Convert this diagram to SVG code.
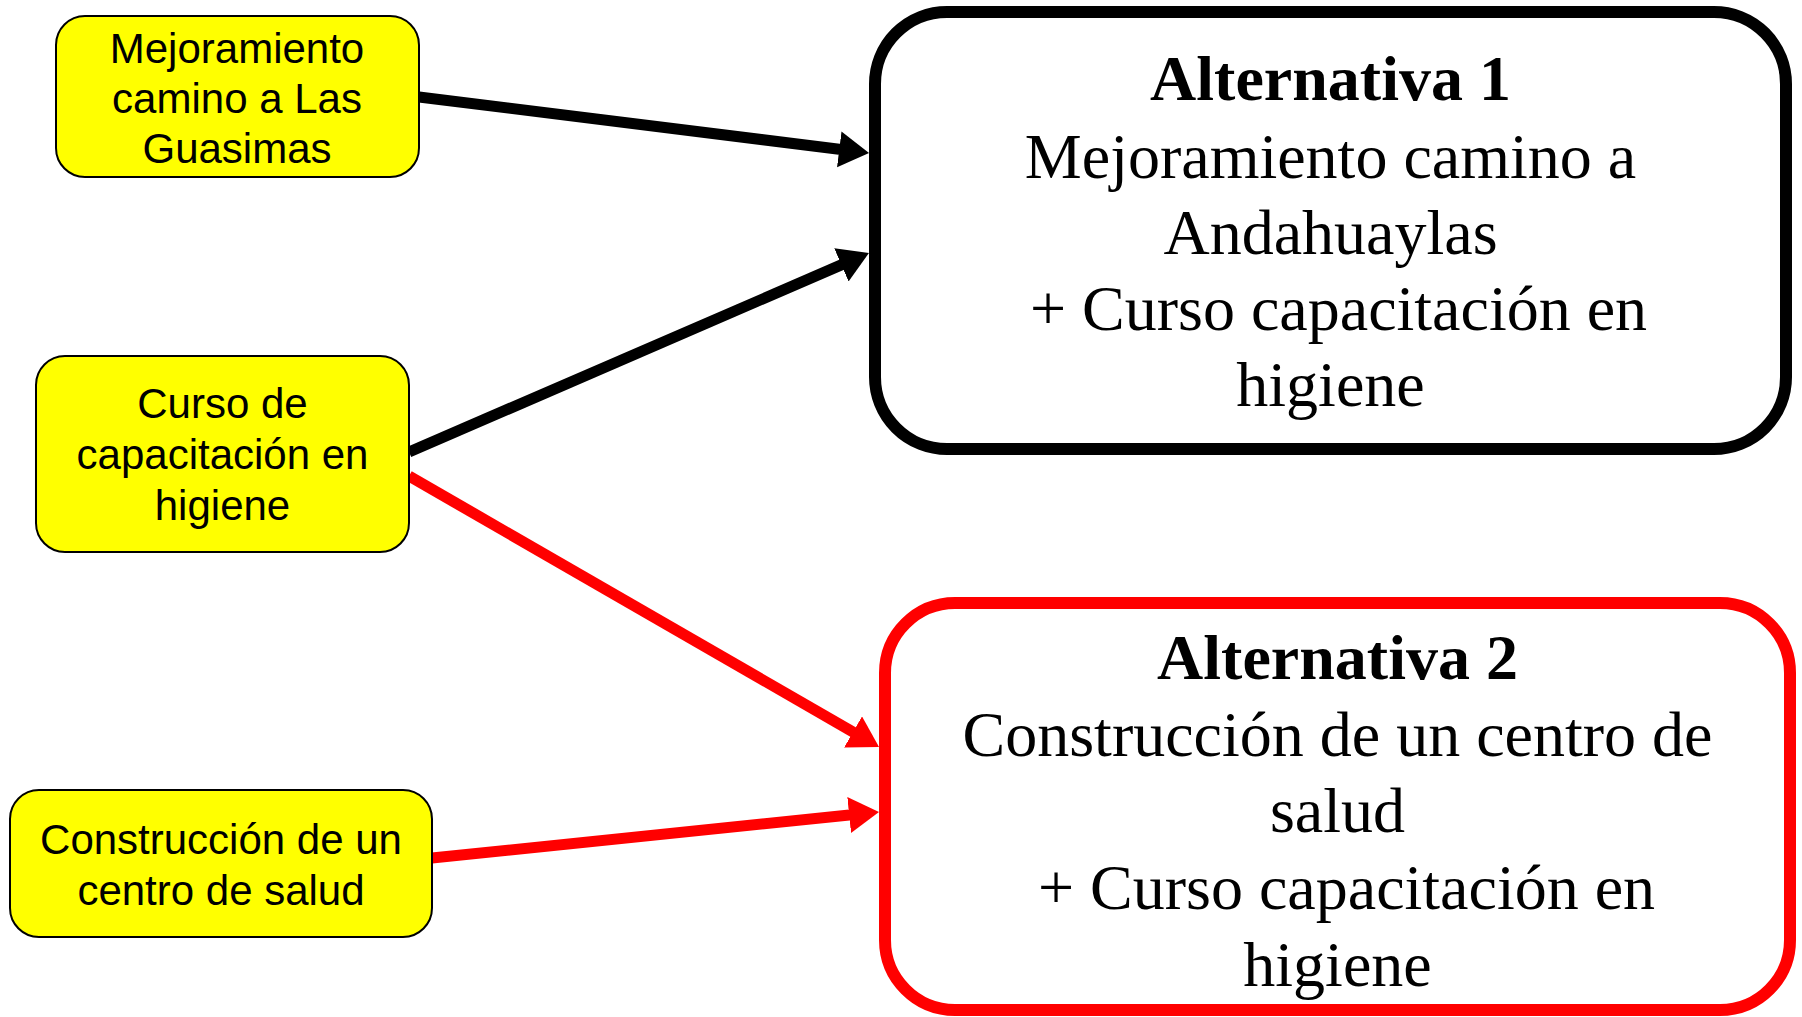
<svg xmlns="http://www.w3.org/2000/svg" width="1802" height="1017" viewBox="0 0 1802 1017">
<style>
.src{fill:#ffff00;stroke:#000;stroke-width:2}
.st{font-family:"Liberation Sans",Arial,sans-serif;font-size:42px;fill:#000;text-anchor:middle}
.alt{fill:#fff;stroke-width:12}
.at{font-family:"Liberation Serif","Times New Roman",serif;font-size:64px;fill:#000;text-anchor:middle}
.b{font-weight:bold}
.cb{stroke:#000;stroke-width:11;fill:none}
.cr{stroke:#ff0000;stroke-width:11;fill:none}
</style>
<defs>
<marker id="ab" markerUnits="userSpaceOnUse" markerWidth="32" markerHeight="38" viewBox="0 0 32 38" refX="10" refY="18" orient="auto"><path d="M0,0 L30,18 L0,36 z" fill="#000"/></marker>
<marker id="ar" markerUnits="userSpaceOnUse" markerWidth="32" markerHeight="38" viewBox="0 0 32 38" refX="10" refY="18" orient="auto"><path d="M0,0 L30,18 L0,36 z" fill="#ff0000"/></marker>
</defs>
<rect width="1802" height="1017" fill="#fff"/>
<g id="connectors">
<line class="cb" x1="419" y1="97" x2="849.2" y2="150.5" marker-end="url(#ab)"/>
<line class="cb" x1="409" y1="452" x2="850.6" y2="260.9" marker-end="url(#ab)"/>
<line class="cr" x1="409" y1="476" x2="861.7" y2="737" marker-end="url(#ar)"/>
<line class="cr" x1="432" y1="858" x2="859.1" y2="814" marker-end="url(#ar)"/>
</g>
<g id="node-mejoramiento">
<rect class="src" x="56" y="16" width="363" height="161" rx="29"/>
<text class="st" x="237" y="62.5">Mejoramiento</text>
<text class="st" x="237" y="112.5">camino a Las</text>
<text class="st" x="237" y="162.5">Guasimas</text>
</g>
<g id="node-curso">
<rect class="src" x="36" y="356" width="373" height="196" rx="29"/>
<text class="st" x="222.5" y="418">Curso de</text>
<text class="st" x="222.5" y="469">capacitación en</text>
<text class="st" x="222.5" y="520">higiene</text>
</g>
<g id="node-construccion">
<rect class="src" x="10" y="790" width="422" height="147" rx="29"/>
<text class="st" x="221" y="854">Construcción de un</text>
<text class="st" x="221" y="905">centro de salud</text>
</g>
<g id="alternativa-1">
<rect class="alt" x="875" y="12" width="911" height="437" rx="72" stroke="#000"/>
<text class="at b" x="1330.5" y="100">Alternativa 1</text>
<text class="at" x="1330.5" y="178">Mejoramiento camino a</text>
<text class="at" x="1330.5" y="254">Andahuaylas</text>
<text class="at" x="1338.5" y="330">+ Curso capacitación en</text>
<text class="at" x="1330.5" y="406">higiene</text>
</g>
<g id="alternativa-2">
<rect class="alt" x="885" y="603" width="905" height="407" rx="70" stroke="#ff0000"/>
<text class="at b" x="1337.5" y="679">Alternativa 2</text>
<text class="at" x="1337.5" y="756">Construcción de un centro de</text>
<text class="at" x="1337.5" y="832">salud</text>
<text class="at" x="1346.5" y="909">+ Curso capacitación en</text>
<text class="at" x="1337.5" y="986">higiene</text>
</g>
</svg>
